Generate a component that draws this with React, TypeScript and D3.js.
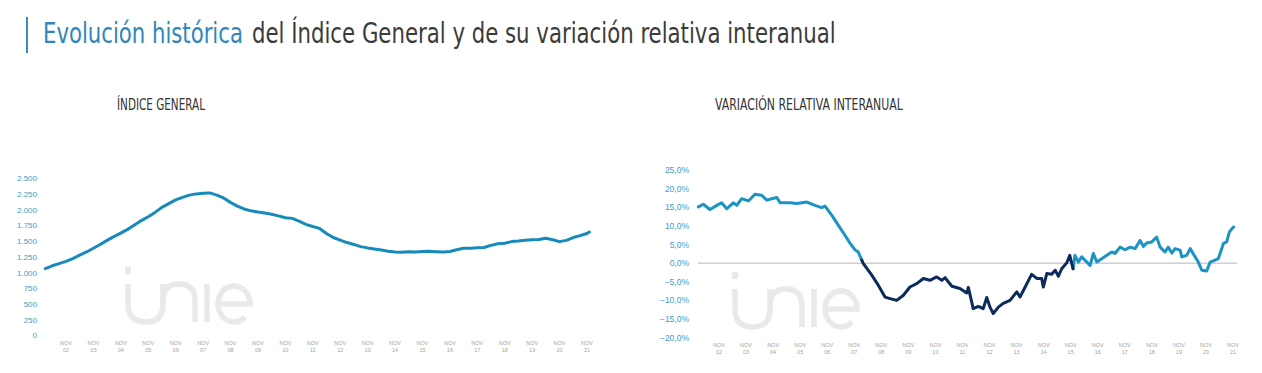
import React, { useLayoutEffect, useRef, useState } from 'react';
import * as d3 from 'd3';

// Índice general, valores trimestrales (feb, may, ago, nov)
const indexDates = [
  2002.08, 2002.33, 2002.58, 2002.83, 2003.08, 2003.33, 2003.58, 2003.83,
  2004.08, 2004.33, 2004.58, 2004.83, 2005.08, 2005.33, 2005.58, 2005.83,
  2006.08, 2006.33, 2006.58, 2006.83, 2007.08, 2007.33, 2007.58, 2007.83,
  2008.08, 2008.33, 2008.58, 2008.83, 2009.08, 2009.33, 2009.58, 2009.83,
  2010.08, 2010.33, 2010.58, 2010.83, 2011.08, 2011.33, 2011.58, 2011.83,
  2012.08, 2012.33, 2012.58, 2012.83, 2013.08, 2013.33, 2013.58, 2013.83,
  2014.08, 2014.33, 2014.58, 2014.83, 2015.08, 2015.33, 2015.58, 2015.83,
  2016.08, 2016.33, 2016.58, 2016.83, 2017.08, 2017.33, 2017.58, 2017.83,
  2018.08, 2018.33, 2018.58, 2018.83, 2019.08, 2019.33, 2019.58, 2019.83,
  2020.08, 2020.33, 2020.58, 2020.83, 2021.08, 2021.33, 2021.58, 2021.83,
  2021.92,
];
const indexValues = [
  1065, 1110, 1145, 1180, 1225, 1280, 1330, 1390,
  1450, 1515, 1575, 1630, 1690, 1760, 1830, 1890,
  1960, 2040, 2100, 2160, 2200, 2235, 2255, 2265,
  2270, 2235, 2190, 2120, 2060, 2015, 1985, 1965,
  1950, 1930, 1905, 1875, 1865, 1820, 1770, 1735,
  1705, 1625, 1560, 1520, 1480, 1450, 1415, 1395,
  1378, 1360, 1340, 1328, 1325, 1332, 1328, 1336,
  1340, 1335, 1330, 1338, 1365, 1388, 1390, 1396,
  1402, 1435, 1460, 1470, 1495, 1505, 1518, 1525,
  1530, 1548, 1525, 1495, 1515, 1560, 1590, 1625,
  1648,
];

// Variación relativa interanual (%)
const varDates = [
  2002.07, 2002.25, 2002.50, 2002.75, 2002.93, 2003.12, 2003.36, 2003.49,
  2003.67, 2003.92, 2004.16, 2004.41, 2004.60, 2004.78, 2004.97, 2005.09,
  2005.46, 2005.71, 2006.08, 2006.38, 2006.63, 2006.75, 2007.00, 2007.24,
  2007.49, 2007.68, 2007.86, 2007.98, 2008.11, 2008.17, 2008.48, 2008.72,
  2008.97, 2009.16, 2009.40, 2009.65, 2009.89, 2010.14, 2010.39, 2010.63,
  2010.88, 2011.07, 2011.19, 2011.44, 2011.74, 2011.99, 2012.05, 2012.23,
  2012.42, 2012.60, 2012.73, 2012.85, 2012.97, 2013.16, 2013.34, 2013.59,
  2013.84, 2013.96, 2014.15, 2014.39, 2014.58, 2014.76, 2014.82, 2014.95,
  2015.13, 2015.26, 2015.38, 2015.50, 2015.69, 2015.80, 2015.92, 2015.99,
  2016.12, 2016.24, 2016.36, 2016.55, 2016.67, 2016.80, 2016.98, 2017.17,
  2017.35, 2017.47, 2017.66, 2017.84, 2018.03, 2018.21, 2018.40, 2018.52,
  2018.64, 2018.83, 2019.01, 2019.14, 2019.32, 2019.44, 2019.57, 2019.69,
  2019.88, 2019.94, 2020.12, 2020.25, 2020.43, 2020.55, 2020.68, 2020.86,
  2020.99, 2021.17, 2021.29, 2021.48, 2021.60, 2021.70, 2021.85,
];
const varValues = [
  15.1, 15.8, 14.4, 15.5, 16.2, 14.6, 16.2, 15.5,
  17.3, 16.7, 18.5, 18.2, 16.9, 17.3, 17.6, 16.2,
  16.2, 16.0, 16.4, 15.5, 14.9, 15.3, 12.9, 10.2,
  7.5, 5.3, 3.6, 3.0, 0.8, -0.1, -3.2, -5.9,
  -9.1, -9.5, -10.0, -8.6, -6.4, -5.5, -4.1, -4.6,
  -3.7, -4.6, -3.9, -6.2, -6.8, -8.0, -6.5, -12.2,
  -11.6, -12.2, -9.2, -11.8, -13.5, -11.8, -10.8, -10.0,
  -7.7, -9.1, -6.4, -3.0, -4.1, -4.1, -6.4, -2.8,
  -3.0, -1.9, -3.5, -1.5, 0.1, 2.1, -1.5, 2.1,
  0.3, 1.7, 0.8, -0.6, 2.6, 0.3, 1.2, 2.1,
  3.0, 2.6, 4.3, 3.6, 4.3, 3.9, 6.1, 4.5,
  5.4, 5.7, 7.0, 4.3, 3.0, 4.3, 2.7, 3.9,
  3.5, 1.7, 2.1, 3.9, 1.7, 0.3, -1.9, -2.1,
  0.3, 0.8, 1.2, 5.3, 5.7, 8.4, 9.7,
];
// tramos de color: oscuro entre estas fechas
const darkFrom = 2008.11;
const darkTo = 2015.92;

const indexTicks = [0, 250, 500, 750, 1000, 1250, 1500, 1750, 2000, 2250, 2500];
const varTicks = [-20, -15, -10, -5, 0, 5, 10, 15, 20, 25];
const yearLabels = ['02', '03', '04', '05', '06', '07', '08', '09', '10', '11',
  '12', '13', '14', '15', '16', '17', '18', '19', '20', '21'];

const LIGHT = '#1b93c4';
const LEFT_LINE = '#168bbb';
const DARK = '#0c2a5c';
const AXIS_BLUE = '#3d9dc9';
const NARROW = "'Liberation Sans Narrow', 'DejaVu Sans Condensed', 'Liberation Sans', sans-serif";
const SANS = "'Liberation Sans', Arial, sans-serif";

const fmtIndex = (v: number) => d3.format(',')(v).replace(/,/g, '.');
const fmtVar = (v: number) => d3.format('.1f')(v).replace('.', ',') + '%';

// texto escalado en horizontal para ocupar un ancho dado
const FitText = ({ x, y, width, size, color, children }:
  { x: number; y: number; width: number; size: number; color: string; children: React.ReactNode }) => {
  const ref = useRef<SVGTextElement>(null);
  const [k, setK] = useState(1);
  useLayoutEffect(() => {
    if (!ref.current) return;
    const w = ref.current.getComputedTextLength();
    if (w > 0) setK(width / w);
  }, [width]);
  return (
    <text ref={ref} transform={`translate(${x},${y}) scale(${k},1)`}
      fontFamily={NARROW} fontSize={size} fill={color}>{children}</text>
  );
};

const Watermark = ({ x, y }: { x: number; y: number }) => (
  <g transform={`translate(${x},${y})`} fill="none" stroke="#e9e9e9" strokeWidth={5.5}>
    <rect x={2} y={0} width={6} height={7} fill="#e9e9e9" stroke="none" />
    <path d="M5,17 V37 Q5,55 22.5,55 Q40,55 40,37 V34 Q40,17 56,17 Q72,17 72,34 V55" />
    <path d="M40,37 V17" />
    <path d="M84,17 V55" />
    <path d="M95,37 H127 A16,18 0 1 0 122,50" />
  </g>
);

const XLabels = ({ scale, y }: { scale: d3.ScaleLinear<number, number>; y: number }) => (
  <g fontFamily={SANS} fontSize={5.5} fill="#a3a3a3" textAnchor="middle">
    {yearLabels.map((yy, i) => {
      const x = scale(2002.833 + i);
      return (
        <g key={yy + i}>
          <text x={x} y={y} dy="0.35em">NOV</text>
          <text x={x} y={y + 7} dy="0.35em">{yy}</text>
        </g>
      );
    })}
  </g>
);

export default function App() {
  // Índice general
  const xL = d3.scaleLinear().domain([2002.833, 2021.833]).range([66, 587]);
  const yL = d3.scaleLinear().domain([0, 2500]).range([335.5, 178.5]);
  const lineL = d3.line<number>()
    .x((_, i) => xL(indexDates[i]))
    .y(d => yL(d));

  // Variación interanual
  const xR = d3.scaleLinear().domain([2002.833, 2021.833]).range([719, 1233]);
  const yR = d3.scaleLinear().domain([-20, 25]).range([337.7, 170]);
  const pts = varDates.map((t, i) => ({ t, v: varValues[i] }));
  const seg1 = pts.filter(p => p.t <= darkFrom);
  const seg2 = pts.filter(p => p.t >= darkFrom && p.t <= darkTo);
  const seg3 = pts.filter(p => p.t >= darkTo);
  const lineR = d3.line<{ t: number; v: number }>()
    .x(d => xR(d.t))
    .y(d => yR(d.v));

  return (
    <svg width={1262} height={373} style={{ position: 'absolute', left: 0, top: 0, background: '#fff' }}>
      {/* título */}
      <rect x={26} y={17} width={2} height={36} fill="#3a8cc2" />
      <FitText x={43} y={43} width={200} size={29} color="#2f86ba">Evolución histórica</FitText>
      <FitText x={252} y={43} width={584} size={29} color="#3b3b3b">
        del Índice General y de su variación relativa interanual
      </FitText>

      <FitText x={117} y={110} width={88} size={16} color="#333">ÍNDICE GENERAL</FitText>
      <FitText x={715} y={110} width={188} size={16} color="#333">VARIACIÓN RELATIVA INTERANUAL</FitText>

      {/* marcas de agua */}
      <Watermark x={123} y={267} />
      <Watermark x={730} y={272} />

      {/* eje y izquierdo */}
      <g fontFamily={SANS} fontSize={8} fill={AXIS_BLUE} textAnchor="end">
        {indexTicks.map(t => (
          <text key={t} x={37} y={yL(t)} dy="0.35em">{fmtIndex(t)}</text>
        ))}
      </g>
      <XLabels scale={xL} y={343} />
      <path d={lineL(indexValues) || ''} fill="none" stroke={LEFT_LINE} strokeWidth={3}
        strokeLinejoin="round" strokeLinecap="round" />

      {/* eje y derecho */}
      <g fontFamily={SANS} fontSize={8.5} fill={AXIS_BLUE} textAnchor="end">
        {varTicks.map(t => (
          <text key={t} x={689} y={yR(t)} dy="0.35em">{fmtVar(t)}</text>
        ))}
      </g>
      <line x1={698} x2={1237} y1={yR(0)} y2={yR(0)} stroke="#cfcfcf" strokeWidth={1.5} />
      <XLabels scale={xR} y={345} />
      <path d={lineR(seg1) || ''} fill="none" stroke={LIGHT} strokeWidth={3} strokeLinejoin="round" strokeLinecap="round" />
      <path d={lineR(seg3) || ''} fill="none" stroke={LIGHT} strokeWidth={3} strokeLinejoin="round" strokeLinecap="round" />
      <path d={lineR(seg2) || ''} fill="none" stroke={DARK} strokeWidth={3} strokeLinejoin="round" strokeLinecap="round" />
    </svg>
  );
}
